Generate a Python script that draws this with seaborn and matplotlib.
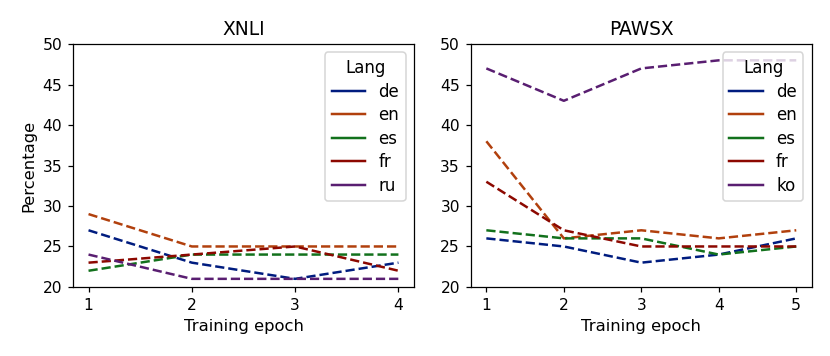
import pandas as pd
import numpy as np
import matplotlib.pyplot as plt
import seaborn as sns

# XNLI values per training epoch
xnli_epochs = [1, 2, 3, 4]
xnli_langs = ['de', 'en', 'es', 'fr', 'ru']
xnli_de = [27, 23, 21, 23]
xnli_en = [29, 25, 25, 25]
xnli_es = [22, 24, 24, 24]
xnli_fr = [23, 24, 25, 22]
xnli_ru = [24, 21, 21, 21]

# PAWSX values per training epoch
pawsx_epochs = [1, 2, 3, 4, 5]
pawsx_langs = ['de', 'en', 'es', 'fr', 'ko']
pawsx_de = [26, 25, 23, 24, 26]
pawsx_en = [38, 26, 27, 26, 27]
pawsx_es = [27, 26, 26, 24, 25]
pawsx_fr = [33, 27, 25, 25, 25]
pawsx_ko = [47, 43, 47, 48, 48]


def to_long(epochs, langs, series):
    rows = []
    for lang, vals in zip(langs, series):
        for e, v in zip(epochs, vals):
            rows.append({'Training epoch': e, 'Percentage': v, 'Lang': lang})
    return pd.DataFrame(rows)


df_xnli = to_long(xnli_epochs, xnli_langs, [xnli_de, xnli_en, xnli_es, xnli_fr, xnli_ru])
df_pawsx = to_long(pawsx_epochs, pawsx_langs, [pawsx_de, pawsx_en, pawsx_es, pawsx_fr, pawsx_ko])

pal = sns.color_palette('dark', 5)
plt.rcParams['axes.labelsize'] = 10.5

fig, axes = plt.subplots(1, 2, figsize=(830 / 112, 356 / 112), dpi=112)


def draw(ax, df, epochs, title):
    sns.lineplot(data=df, x='Training epoch', y='Percentage', hue='Lang',
                 palette=pal, linestyle='--', linewidth=1.6, ax=ax)
    ax.set_title(title)
    ax.set_xticks(epochs)
    ax.set_ylim(20, 50)
    sns.move_legend(ax, 'upper right', title='Lang', fontsize=10.7, title_fontsize=10.7,
                    labelspacing=0.33, handlelength=2.0)
    # legend handles are drawn solid
    for h in ax.get_legend().get_lines():
        h.set_linestyle('-')


draw(axes[0], df_xnli, xnli_epochs, 'XNLI')
draw(axes[1], df_pawsx, pawsx_epochs, 'PAWSX')
axes[1].set_ylabel('')

plt.subplots_adjust(left=0.088, right=0.978, top=0.876, bottom=0.194, wspace=0.167)
fig.savefig('out.png')
